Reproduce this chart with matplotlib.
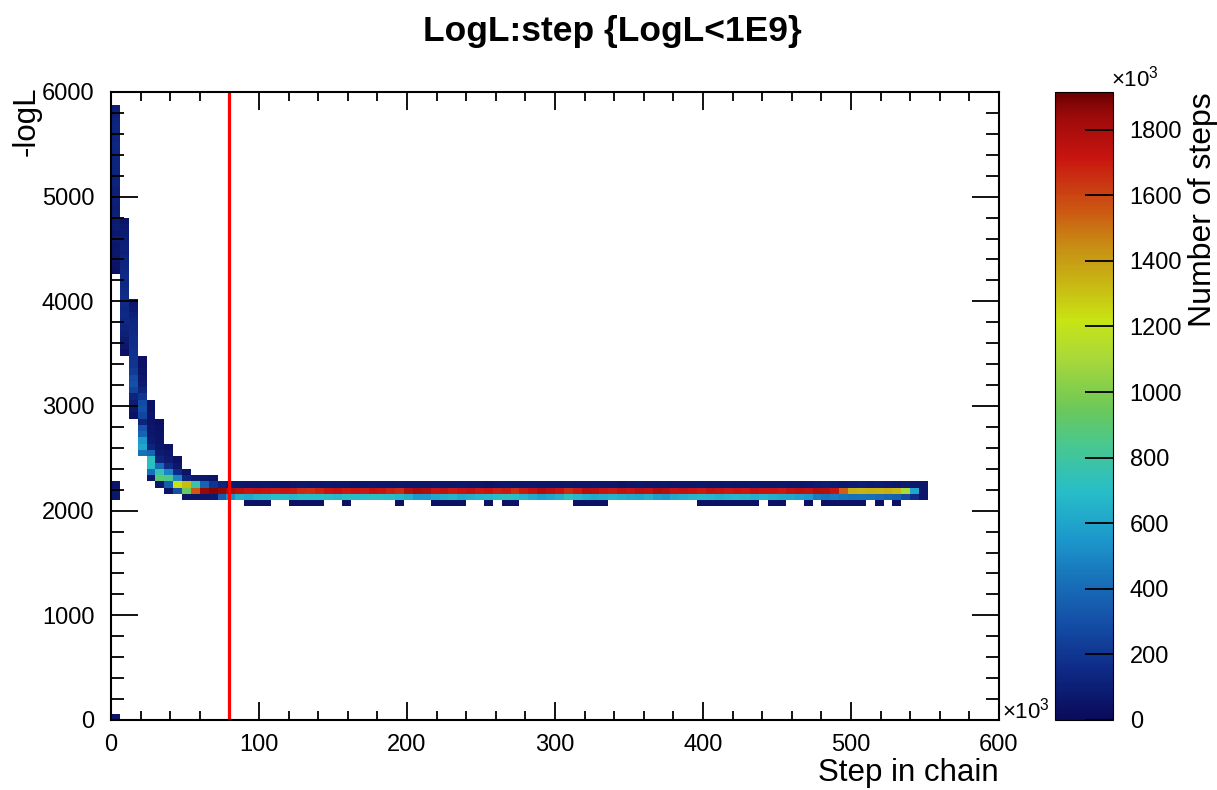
import numpy as np
import matplotlib
matplotlib.use("Agg")
import matplotlib.pyplot as plt
from matplotlib.colors import LinearSegmentedColormap
from matplotlib.ticker import MultipleLocator

plt.rcParams['font.family'] = ['Liberation Sans', 'DejaVu Sans']
plt.rcParams['mathtext.fontset'] = 'custom'
plt.rcParams['mathtext.rm'] = 'Liberation Sans'

# binning: x in 10^3 steps, y in -logL
x_edges = np.arange(0, 606, 6)
y_edges = np.arange(0, 6060, 60)

# burn-in part, one list per x bin (bin 0, 1, ...), counts in 10^3 from the first y bin upward
decay_first_y = [71, 58, 48, 42, 38, 37, 36, 36, 35, 35, 35, 35, 35, 35]
decay_counts = [
    [40, 50, 60, 70, 60, 80, 70, 90, 80, 100, 90, 100, 110, 100, 120, 110, 120, 130,
     120, 130, 140, 130, 120, 130, 120, 110, 100],
    [40, 60, 80, 100, 120, 140, 150, 140, 150, 160, 150, 140, 150, 140, 130, 120, 110,
     100, 90, 80, 70, 50],
    [40, 60, 90, 130, 250, 300, 280, 220, 200, 190, 180, 170, 160, 150, 140, 130, 110, 80, 60],
    [420, 600, 560, 380, 320, 120, 260, 300, 280, 200, 120, 80, 60, 50, 40, 30],
    [60, 420, 700, 720, 380, 120, 80, 60, 60, 50, 50, 40, 30],
    [60, 900, 760, 400, 120, 80, 60, 50, 50, 40, 30],
    [50, 350, 850, 500, 150, 80, 60, 40],
    [300, 1220, 500, 150, 60, 40],
    [50, 950, 1320, 120, 50],
    [50, 1550, 780, 80],
    [60, 1850, 380, 60],
    [80, 1880, 200, 50],
    [350, 1860, 120],
    [520, 1800, 80],
]
# a few odd cells: (x bin, y bin, counts)
stray_cells = [(0, 0, 50), (0, 35, 60), (0, 36, 70), (0, 37, 50)]

# after burn-in: x bins 14..91, three y bins (35, 36, 37)
band_first_x = 14
band_top = [70, 60, 60, 70, 60, 50, 60, 70, 60, 60,
            70, 60, 60, 50, 60, 70, 60, 60, 70, 60,
            60, 60, 70, 60, 60, 70, 60, 60, 50, 60,
            70, 60, 60, 70, 60, 60, 60, 70, 60, 60,
            70, 60, 60, 50, 60, 70, 60, 60, 70, 60,
            60, 60, 70, 60, 60, 70, 60, 60, 70, 60,
            60, 70, 60, 60, 70, 80, 90, 80,
            70, 80, 90, 80, 90, 80, 70, 80, 70, 60]
band_peak = [1760, 1720, 1740, 1720, 1700, 1720, 1700, 1660, 1650, 1680,
             1720, 1740, 1700, 1720, 1700, 1740, 1720, 1690, 1660, 1780,
             1820, 1800, 1720, 1740, 1700, 1720, 1740, 1700, 1720, 1690,
             1700, 1650, 1700, 1740, 1790, 1760, 1720, 1660, 1700, 1780,
             1760, 1720, 1700, 1740, 1720, 1760, 1740, 1800, 1780, 1720,
             1740, 1720, 1700, 1740, 1720, 1700, 1720, 1700, 1740, 1720,
             1720, 1700, 1740, 1760, 1740, 1790, 1780, 1720,
             1540, 1360, 1340, 1350, 1340, 1360, 1330, 1120, 600, 60]
band_low = [640, 620, 660, 680, 700, 690, 680, 700, 710, 700,
            690, 680, 700, 690, 700, 720, 700, 690, 680, 640,
            560, 560, 600, 640, 660, 620, 640, 660, 680, 700,
            720, 700, 660, 620, 580, 600, 640, 720, 680, 640,
            620, 640, 660, 640, 620, 600, 640, 580, 560, 620,
            640, 660, 680, 660, 640, 660, 680, 660, 640, 660,
            640, 620, 600, 580, 560, 460, 440, 460,
            440, 420, 430, 420, 400, 380, 360, 280, 160, 60]
# y bin 34: x bins with a few counts
sparse_x = [15, 16, 17, 20, 21, 22, 23, 26, 32, 36, 37, 38, 39, 42, 44, 45,
            52, 53, 54, 55, 66, 67, 68, 69, 70, 71, 72, 74, 75, 78,
            80, 81, 82, 83, 84, 86, 88]
sparse_count = 40

burn_in = 80  # 10^3 steps

counts = np.zeros((len(y_edges) - 1, len(x_edges) - 1))
for ix, (y0, vals) in enumerate(zip(decay_first_y, decay_counts)):
    counts[y0:y0 + len(vals), ix] = vals
for ix, iy, v in stray_cells:
    counts[iy, ix] = v
n = len(band_peak)
counts[37, band_first_x:band_first_x + n] = band_top
counts[36, band_first_x:band_first_x + n] = band_peak
counts[35, band_first_x:band_first_x + n] = band_low
counts[34, sparse_x] = sparse_count
counts = np.ma.masked_equal(counts, 0)

vmax = 1915
anchors = [(0, '#0a0a5a'), (150, '#0e2a86'), (300, '#1450a8'), (420, '#1870b8'),
           (550, '#1c98cc'), (700, '#28bec8'), (850, '#4cc88a'), (950, '#6cc858'),
           (1100, '#a8d83a'), (1220, '#c8e414'), (1350, '#c8b014'), (1450, '#c88c14'),
           (1550, '#cc5a12'), (1720, '#c81410'), (1850, '#9a0a0a'), (1915, '#6c0000')]
cmap = LinearSegmentedColormap.from_list('rainbow_root', [(v / vmax, c) for v, c in anchors])

fig = plt.figure(figsize=(12.17, 7.9), dpi=100)
ax = fig.add_axes([111 / 1217, 70 / 790, 888 / 1217, 628 / 790])
cax = fig.add_axes([1055 / 1217, 70 / 790, 58 / 1217, 628 / 790])

mesh = ax.pcolormesh(x_edges, y_edges, counts, cmap=cmap, vmin=0, vmax=vmax)
ax.axvline(burn_in, color='red', lw=2.3)

ax.set_xlim(0, 600)
ax.set_ylim(0, 6000)
ax.xaxis.set_major_locator(MultipleLocator(100))
ax.xaxis.set_minor_locator(MultipleLocator(20))
ax.yaxis.set_major_locator(MultipleLocator(1000))
ax.yaxis.set_minor_locator(MultipleLocator(200))
ax.tick_params(axis='x', which='major', direction='in', length=13, width=1.3,
               top=True, labelsize=17, pad=10)
ax.tick_params(axis='x', which='minor', direction='in', length=6.5, width=1.3, top=True)
ax.tick_params(axis='y', which='major', direction='in', length=19.5, width=1.3,
               right=True, labelsize=17, pad=12)
ax.tick_params(axis='y', which='minor', direction='in', length=9.7, width=1.3, right=True)
for s in ax.spines.values():
    s.set_linewidth(1.5)

cb = fig.colorbar(mesh, cax=cax)
cb.set_ticks(np.arange(0, 1801, 200))
cb.ax.tick_params(direction='in', length=20, width=1.3, labelsize=17, pad=12)
cb.outline.set_linewidth(0.8)

fig.text(0.503, 0.96, 'LogL:step {LogL<1E9}', ha='center', va='center',
         fontsize=25.5, fontweight='bold')
fig.text(999 / 1217, 2 / 790, 'Step in chain', ha='right', va='bottom', fontsize=22.5)
fig.text(27 / 1217, 703 / 790, '-logL', rotation=90, ha='center', va='top', fontsize=22.5)
fig.text(1203 / 1217, 698 / 790, 'Number of steps', rotation=90, ha='center', va='top',
         fontsize=23)
fig.text(1002 / 1217, 72 / 790, r'$\times$10$^{3}$', ha='left', va='baseline', fontsize=16)
fig.text(1111 / 1217, 703 / 790, r'$\times$10$^{3}$', ha='left', va='baseline', fontsize=16)

fig.savefig('out.png', dpi=100)
